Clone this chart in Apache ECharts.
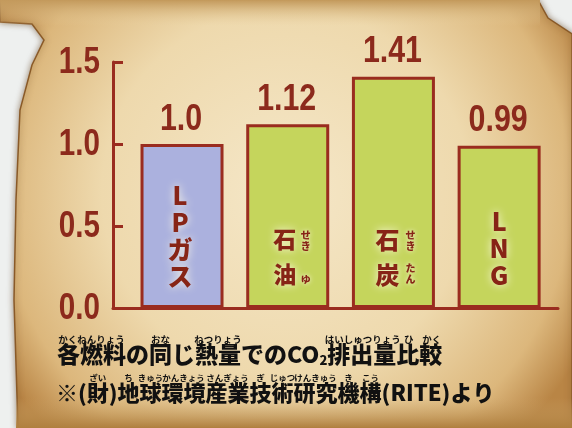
<!DOCTYPE html>
<html><head><meta charset="utf-8">
<script src="https://cdn.jsdelivr.net/npm/echarts@6/dist/echarts.min.js"></script>
<style>html,body{margin:0;padding:0;background:#eef0ef}#c{width:572px;height:428px}</style>
</head><body><div id="c"></div>
<script>
// ---- data ----
const categories = ['LPガス', '石油', '石炭', 'LNG'];
const values = [1.0, 1.12, 1.41, 0.99];
const valueLabels = ['1.0', '1.12', '1.41', '0.99'];
const barText = ['L\nP\nガ\nス', '石\n油', '石\n炭', 'L\nN\nG'];
const barRuby = ['', 'せ\nき\n\n\nゆ', 'せ\nき\n\nた\nん', ''];
const yTicks = [0, 0.5, 1.0, 1.5];
const yTickLabels = ['0.0', '0.5', '1.0', '1.5'];
const titleLine1 = [['各燃料の同じ熱量でのCO', 'a'], ['2', 's'], ['排出量比較', 'a']];
const rubyLine1 = [['かくねんりょう', 0, 3], ['おな', 4, 1], ['ねつりょう', 6, 2], ['はいしゅつりょう', 13, 3], ['ひ', 16, 1], ['かく', 17, 1]];
const titleLine2 = [['※(財)地球環境産業技術研究機構(RITE)より', 'b']];
const rubyLine2 = [['ざい', 2, 1], ['ち', 4, 1], ['きゅう', 5, 1], ['かんきょう', 6, 2], ['さんぎょう', 8, 2], ['ぎ', 10, 1], ['じゅつ', 11, 1], ['けんきゅう', 12, 2], ['き', 14, 1], ['こう', 15, 1]];

// ---- styles ----
const AX = '#9a2c1f';
const TXT = '#8c2a1c';
const INTXT = '#872416';
const NUMFONT = '"Liberation Sans",Arial,sans-serif';
const NUMSIZE = 37;
const JP = '"Noto Sans CJK JP",sans-serif';
const barColors = ['#abb1de', '#c5d55c', '#c5d55c', '#c5d55c'];
const insideStyle = [
  {fontSize: 25, lineHeight: 27, distance: 18, offset: [-2, 0]},
  {fontSize: 23, lineHeight: 35, distance: 16, offset: [-3, 0]},
  {fontSize: 24, lineHeight: 35, distance: 16, offset: [-6, 0]},
  {fontSize: 25, lineHeight: 27, distance: 19, offset: [0, 0]}
];
const rubyOffset = [[0, 0], [18, 0], [17, 0], [0, 0]];
const segFont = {a: 23, s: 13, b: 22};
const rubySize = [9.5, 8.5];

// ---- title text helpers ----
const cv = document.createElement('canvas').getContext('2d');
function w(str, size) { cv.font = '900 ' + size + 'px ' + JP; return cv.measureText(str).width; }
function charMetrics(segs) {
  const out = []; let x = 0;
  segs.forEach(([t, k]) => { for (const ch of t) { const cw = w(ch, segFont[k]); out.push([x, cw]); x += cw; } });
  return out;
}
function titleElems(segs, ruby, x0, y0, rs) {
  const els = [];
  const rich = {};
  Object.keys(segFont).forEach(k => {
    rich[k] = {fontSize: segFont[k], fontWeight: 900, fontFamily: JP, fill: '#111', lineHeight: 25};
  });
  rich.s.verticalAlign = 'bottom';
  els.push({type: 'text', x: x0, y: y0, z: 100, style: {
    text: segs.map(([t, k]) => '{' + k + '|' + t + '}').join(''),
    rich: rich, align: 'left', verticalAlign: 'top'}});
  const m = charMetrics(segs);
  ruby.forEach(([r, i, n]) => {
    const left = m[i][0], right = m[i + n - 1][0] + m[i + n - 1][1];
    els.push({type: 'text', x: x0 + (left + right) / 2, y: y0 + 2, z: 100, style: {
      text: r, fontSize: rs, fontWeight: 'bold', fontFamily: JP, fill: '#111',
      align: 'center', verticalAlign: 'bottom'}});
  });
  return els;
}

const chart = echarts.init(document.getElementById('c'), null, {renderer: 'canvas'});
const pts = values.map((v, i) => [i, v]);
const X_MIN = -0.653, X_MAX = 3.557;

const bg = [
  {type: 'rect', z: -100, shape: {x: 0, y: 0, width: 572, height: 428}, style: {fill: '#eef0ef'}},
  {type: 'polygon', z: -90, shape: {points: [[0,0],[538,0],[548,18],[572,34],[572,428],[18,428],[14,300],[16,200],[20,110],[32,65],[44,40],[32,24],[0,22]]},
   style: {fill: new echarts.graphic.RadialGradient(0.5, 0.45, 0.78, [
     {offset: 0, color: '#f5e7c8'}, {offset: 0.55, color: '#eed9ad'}, {offset: 0.85, color: '#dcb77c'}, {offset: 1, color: '#b98545'}]),
     stroke: '#8a5a28', lineWidth: 1.5, shadowBlur: 6, shadowColor: 'rgba(80,45,10,0.5)'}},
  {type: 'rect', z: -80, shape: {x: 0, y: 0, width: 540, height: 26},
   style: {fill: new echarts.graphic.LinearGradient(0, 0, 0, 1, [{offset: 0, color: '#c49a5c'}, {offset: 1, color: 'rgba(230,205,155,0)'}])}},
  {type: 'rect', z: -80, shape: {x: 16, y: 398, width: 556, height: 30},
   style: {fill: new echarts.graphic.LinearGradient(0, 0, 0, 1, [{offset: 0, color: 'rgba(200,160,100,0)'}, {offset: 1, color: '#b0803f'}])}}
];

const titles = titleElems(titleLine1, rubyLine1, 57, 342, rubySize[0]).concat(titleElems(titleLine2, rubyLine2, 56, 380, rubySize[1]));

chart.setOption({
  animation: false,
  backgroundColor: 'transparent',
  grid: {left: 113, right: 14, top: 62, bottom: 120, containLabel: false},
  xAxis: {type: 'value', min: X_MIN, max: X_MAX,
    axisLine: {show: true, onZero: false, lineStyle: {color: AX, width: 3}},
    axisTick: {show: false}, axisLabel: {show: false}, splitLine: {show: false}},
  yAxis: {type: 'value', min: yTicks[0], max: yTicks[yTicks.length - 1], interval: 0.5,
    axisLine: {show: true, onZero: false, lineStyle: {color: AX, width: 3}},
    axisTick: {show: true, inside: true, length: 10, lineStyle: {color: AX, width: 3}},
    axisLabel: {show: false},
    splitLine: {show: false}},
  series: [
    {type: 'bar', name: 'CO2', barWidth: 83, barGap: '-100%', silent: true, z: 2,
     data: pts.map((p, i) => ({value: p, itemStyle: {color: barColors[i]}})),
     itemStyle: {borderColor: AX, borderWidth: 3}},
    {type: 'bar', name: 'name', barWidth: 83, barGap: '-100%', silent: true, z: 3,
     data: pts.map((p, i) => ({value: p, label: insideStyle[i]})),
     itemStyle: {color: 'rgba(0,0,0,0)'},
     label: {show: true, position: 'insideBottom', formatter: p => barText[p.dataIndex], align: 'center',
       color: INTXT, fontWeight: 900, fontFamily: JP, textShadowColor: '#fffbe8', textShadowBlur: 9}},
    {type: 'bar', name: 'ruby', barWidth: 83, barGap: '-100%', silent: true, z: 4,
     data: pts.map((p, i) => ({value: p, label: {offset: rubyOffset[i]}})),
     itemStyle: {color: 'rgba(0,0,0,0)'},
     label: {show: true, position: 'insideBottom', distance: 23, formatter: p => barRuby[p.dataIndex],
       color: INTXT, fontSize: 10, lineHeight: 11, fontWeight: 900, fontFamily: JP, textShadowColor: '#fffbe8', textShadowBlur: 5}}
  ]
});

// condensed numeric labels placed through the chart's own scales
const numStyle = {fontSize: NUMSIZE, fontWeight: 'bold', fontFamily: NUMFONT, fill: TXT};
const numEls = [];
yTicks.forEach((v, i) => {
  const p = chart.convertToPixel({xAxisIndex: 0, yAxisIndex: 0}, [X_MIN, v]);
  numEls.push({type: 'text', x: p[0] - 13, y: p[1] + 1, scaleX: 0.8, z: 50,
    style: Object.assign({text: yTickLabels[i], align: 'right', verticalAlign: 'middle'}, numStyle)});
});
pts.forEach((pt, i) => {
  const p = chart.convertToPixel({xAxisIndex: 0, yAxisIndex: 0}, pt);
  numEls.push({type: 'text', x: p[0] - 1, y: p[1] - 6, scaleX: 0.82, z: 50,
    style: Object.assign({text: valueLabels[i], align: 'center', verticalAlign: 'bottom'}, numStyle)});
});

chart.setOption({graphic: {elements: bg.concat(titles, numEls)}});
</script></body></html>
